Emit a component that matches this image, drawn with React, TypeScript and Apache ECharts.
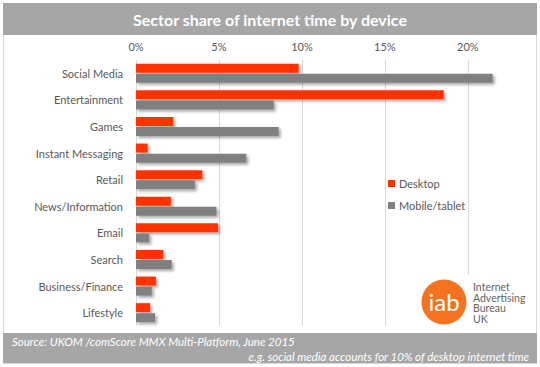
import React, { useEffect, useRef } from "react";
import * as echarts from "echarts";

const categories = [
  "Social Media",
  "Entertainment",
  "Games",
  "Instant Messaging",
  "Retail",
  "News/Information",
  "Email",
  "Search",
  "Business/Finance",
  "Lifestyle",
];
const desktop = [9.8, 18.55, 2.25, 0.7, 4.0, 2.1, 4.95, 1.65, 1.2, 0.85];
const mobile = [21.5, 8.3, 8.6, 6.65, 3.55, 4.85, 0.8, 2.15, 0.95, 1.15];
const seriesNames = ["Desktop", "Mobile/tablet"];
const titleText = "Sector share of internet time by device";
const sourceText = "Source: UKOM /comScore MMX Multi-Platform, June 2015";
const noteText = "e.g. social media accounts for 10% of desktop internet time";
const logoLines = ["Internet", "Advertising", "Bureau", "UK"];

const FONT = "Lato, 'Open Sans', sans-serif";

export default function App() {
  const ref = useRef<HTMLDivElement>(null);
  useEffect(() => {
    document.body.style.margin = "0";
    const chart = echarts.init(ref.current!, null, { renderer: "svg" });
    const shadow = {
      shadowColor: "rgba(0,0,0,0.35)",
      shadowBlur: 3,
      shadowOffsetX: 2,
      shadowOffsetY: 2,
    };
    chart.setOption({
      animation: false,
      backgroundColor: "#ffffff",
      textStyle: { fontFamily: FONT },
      grid: { left: 136, top: 60, width: 365, height: 266, containLabel: false },
      xAxis: {
        type: "value",
        position: "top",
        min: 0,
        max: 22,
        interval: 5,
        axisLine: { show: false },
        axisTick: { show: false },
        axisLabel: {
          formatter: "{value}%",
          color: "#595959",
          fontSize: 11,
          margin: 8,
          showMaxLabel: false,
          fontFamily: FONT,
        },
        splitLine: { show: true, showMaxLine: false, lineStyle: { color: "#d9d9d9", width: 1 } },
      },
      yAxis: {
        type: "category",
        data: categories,
        inverse: true,
        axisLine: { show: false },
        axisTick: { show: false },
        axisLabel: { color: "#595959", fontSize: 11, margin: 13, fontFamily: FONT },
      },
      legend: {
        orient: "vertical",
        left: 388,
        top: 178,
        itemWidth: 7,
        itemHeight: 7,
        itemGap: 11,
        padding: 0,
        icon: "rect",
        textStyle: { color: "#595959", fontSize: 11, fontFamily: FONT, padding: [0, 0, 0, -1] },
        data: seriesNames,
      },
      series: [
        {
          name: seriesNames[0],
          type: "bar",
          data: desktop,
          barWidth: 9,
          barGap: "12%",
          itemStyle: { color: "#ff3300", ...shadow },
        },
        {
          name: seriesNames[1],
          type: "bar",
          data: mobile,
          barWidth: 9,
          barGap: "12%",
          itemStyle: { color: "#808080", ...shadow },
        },
      ],
      graphic: [
        {
          type: "rect",
          z: -1,
          shape: { x: 3.5, y: 3.5, width: 533, height: 360 },
          style: { fill: "none", stroke: "#d9d9d9", lineWidth: 1 },
        },
        {
          type: "rect",
          shape: { x: 3, y: 3, width: 534, height: 32 },
          style: { fill: "#a6a6a6" },
        },
        {
          type: "text",
          x: 270,
          y: 19.5,
          style: {
            text: titleText,
            fill: "#ffffff",
            font: `bold 16px ${FONT}`,
            align: "center",
            verticalAlign: "middle",
          },
        },
        {
          type: "rect",
          shape: { x: 3, y: 333, width: 534, height: 30 },
          style: { fill: "#a6a6a6" },
        },
        {
          type: "text",
          x: 12,
          y: 341.5,
          style: {
            text: sourceText,
            fill: "#ffffff",
            font: `italic 11.5px ${FONT}`,
            align: "left",
            verticalAlign: "middle",
          },
        },
        {
          type: "text",
          x: 529,
          y: 356.5,
          style: {
            text: noteText,
            fill: "#ffffff",
            font: `italic 11.5px ${FONT}`,
            align: "right",
            verticalAlign: "middle",
          },
        },
        {
          type: "rect",
          shape: { x: 418, y: 275, width: 118, height: 53 },
          style: { fill: "#ffffff" },
          z: 10,
        },
        {
          type: "circle",
          shape: { cx: 444, cy: 302, r: 22.5 },
          style: { fill: "#f47321" },
          z: 11,
        },
        {
          type: "text",
          x: 444,
          y: 301,
          z: 12,
          style: {
            text: "iab",
            fill: "#ffffff",
            font: `24px ${FONT}`,
            align: "center",
            verticalAlign: "middle",
          },
        },
        ...logoLines.map((t, i) => ({
          type: "text",
          x: 473,
          y: 287 + i * 10.5,
          z: 12,
          style: {
            text: t,
            fill: "#666666",
            font: `10.5px ${FONT}`,
            align: "left",
            verticalAlign: "middle",
          },
        })),
      ],
    });
    return () => chart.dispose();
  }, []);
  return (
    <div
      ref={ref}
      style={{ position: "fixed", left: 0, top: 0, width: 540, height: 367 }}
    />
  );
}
